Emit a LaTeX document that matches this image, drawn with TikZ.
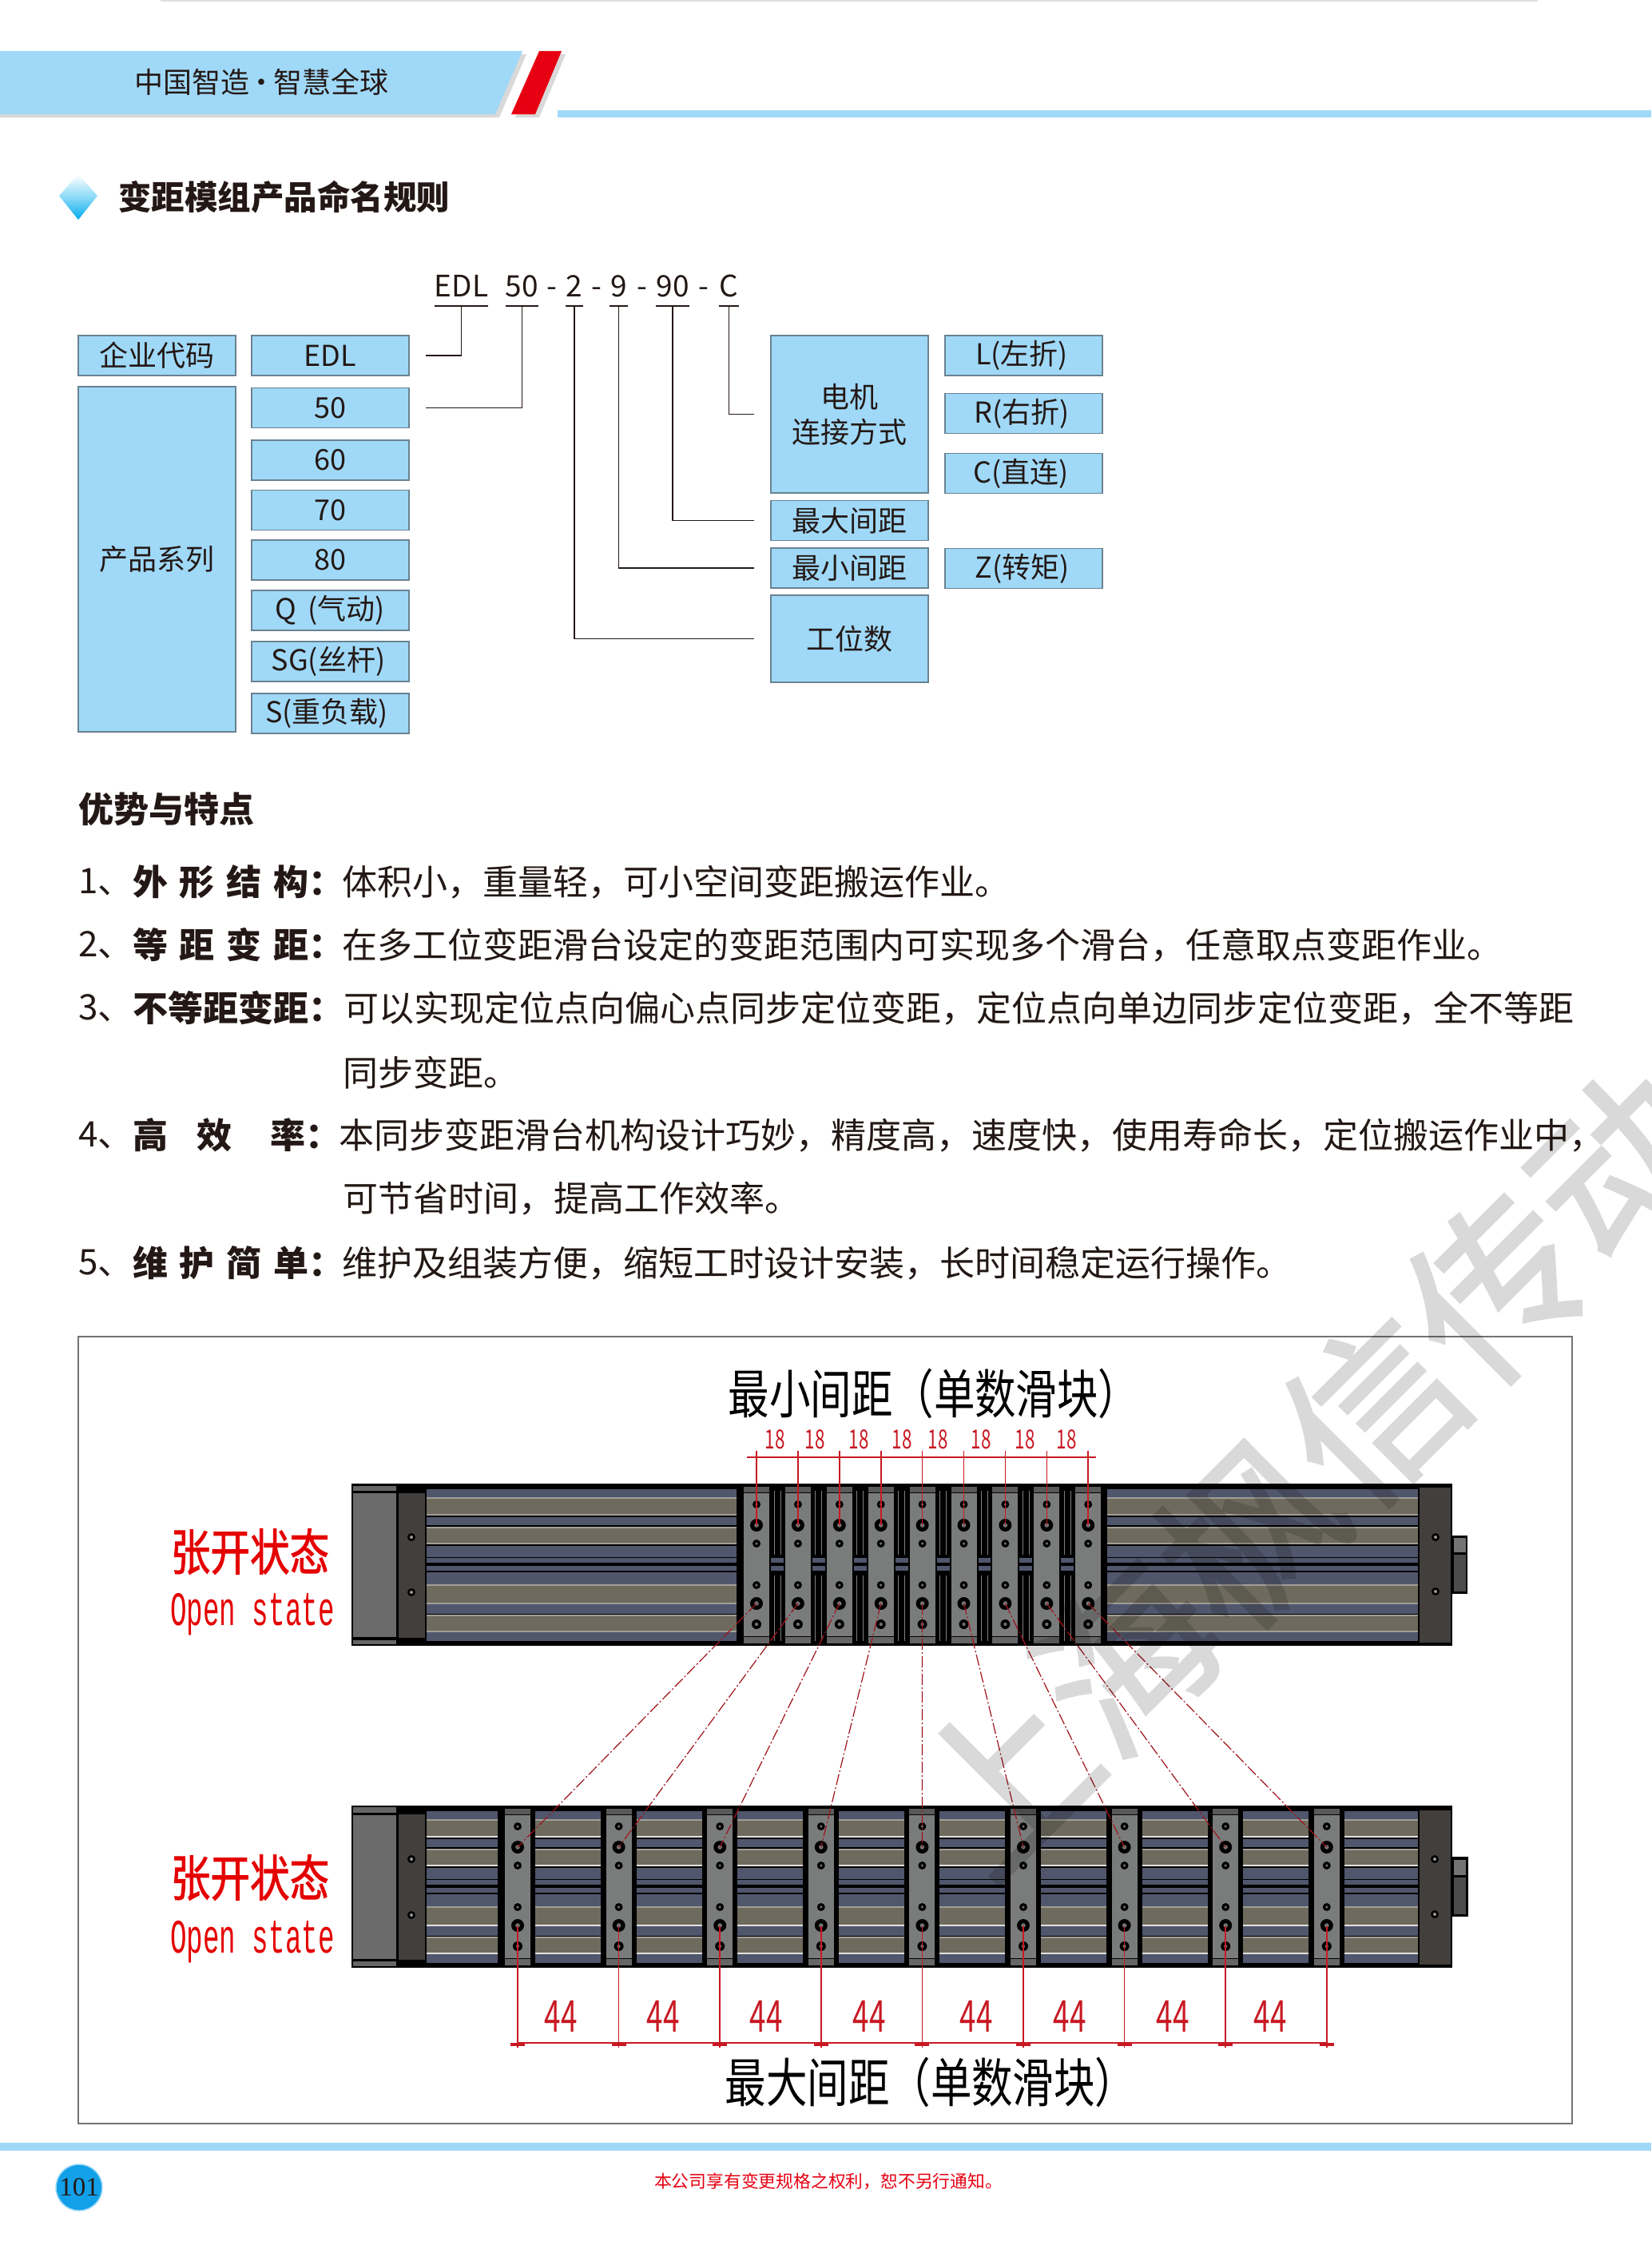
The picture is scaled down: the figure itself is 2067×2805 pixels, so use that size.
\documentclass[tikz,border=0pt]{standalone}
\usepackage{fontspec}
\usepackage{xcolor}
\setmainfont{Noto Sans CJK SC}
\newfontfamily\monolatin{Liberation Mono}
\newfontfamily\seriflatin{Liberation Serif}
\newfontfamily\markfont[FakeBold=1.5]{Noto Sans CJK SC}
\usetikzlibrary{positioning,calc}
\definecolor{bandblue}{RGB}{160,217,248}
\definecolor{boxline}{RGB}{105,130,145}
\definecolor{inkblack}{RGB}{35,24,21}
\definecolor{flagred}{RGB}{230,0,18}
\definecolor{dimred}{RGB}{200,25,35}
\definecolor{railslate}{RGB}{80,86,108}
\definecolor{railsand}{RGB}{110,106,94}
\definecolor{sliderface}{RGB}{122,124,124}
\definecolor{blockface}{RGB}{66,63,60}
\definecolor{pageblue}{RGB}{18,160,232}
\definecolor{gemblue}{RGB}{0,172,238}
\newcommand{\fsz}[1]{\fontsize{#1}{#1}\selectfont}
\tikzset{
  box/.style     = {draw=boxline, line width=1.5pt, fill=bandblue, inner sep=0pt,
                    text=inkblack, align=center, font=\fontsize{36}{44}\selectfont,
                    minimum width=197pt},
  token/.style   = {inner sep=0pt, minimum height=50pt, text height=26pt, text depth=0pt,
                    text=inkblack, font=\fsz{37}},
  under/.style   = {line width=1.5pt, draw=inkblack},
  line/.style    = {anchor=west, inner sep=0pt, text=inkblack, font=\fsz{44}},
  wire/.style    = {line width=1.5pt, draw=inkblack},
  dimlabel/.style= {inner sep=0pt, text=dimred, xscale=.68, font=\fsz{33}},
  widelabel/.style={inner sep=0pt, text=dimred, xscale=.67, font=\fsz{55}},
  dimline/.style = {draw=dimred, line width=1.6pt},
  link/.style    = {draw=dimred!80!black, line width=1.2pt, dash pattern=on 14pt off 3pt on 2pt off 3pt},
  caption/.style = {inner sep=0pt, text=black, xscale=.78, font=\fsz{66}},
  openstate/.style={inner sep=0pt, text=red!90!black, xscale=.57, font=\monolatin\fsz{60}},
  openzh/.style  = {inner sep=0pt, text=red!90!black, xscale=.8, font=\markfont\fsz{62}}
}
% one row of rails between two x values, #3 is the top of the module, #4 the white in the lower edge
\newcommand{\railrow}[4]{%
  \foreach \a/\b in {7/17,42/52,78/92,111/126,151/163,186/197}
    \fill[railslate] (#1,#3+\a) rectangle (#2,#3+\b);
  \foreach \a/\b in {18/38,55/74,127/149,165/184}{
    \fill[railsand] (#1,#3+\a) rectangle (#2,#3+\b);
    \draw[white!35!railsand, line width=1.5pt] (#1,#3+\a) -- (#2,#3+\a);
    \draw[white!#4!railsand, line width=1.5pt] (#1,#3+\b+1) -- (#2,#3+\b+1);
  }
  \foreach \a/\b in {93/99,103/109}
    \fill[railslate] (#1,#3+\a) rectangle (#2,#3+\b);
}
% slider plate with its six holes, #1 x, #2 module top
\newcommand{\sliderplate}[2]{%
  \fill[black] (#1-18,#2+1) rectangle (#1+18,#2+203);
  \fill[black!65] (#1-16,#2+4) rectangle (#1+16,#2+11);
  \fill[black!60] (#1-16,#2+192) rectangle (#1+16,#2+200);
  \fill[sliderface] (#1-16,#2+12) rectangle (#1+16,#2+191);
  \foreach \h/\r in {26/5,52/8,75/5,127/5,150/8,176/6}{
    \fill[black] (#1,#2+\h) circle (\r);
    \fill[black!55] (#1,#2+\h) circle (\r*.35);
  }
}
\begin{document}
\begin{tikzpicture}[x=1pt,y=-1pt]
  \path[use as bounding box,clip] (0,0) rectangle (2067,2805);
  \fill[white] (0,0) rectangle (2067,2805);
  % header
  \draw[black!12, line width=1.5pt] (201,1) -- (1925,1);
  \fill[black!15] (0,68) -- (659,68) -- (625,147) -- (0,147) -- cycle;
  \fill[bandblue] (0,64) -- (654,64) -- (620,143) -- (0,143) -- cycle;
  \fill[black!15] (680,68) -- (708,68) -- (675,147) -- (645,147) -- cycle;
  \fill[flagred] (675,64) -- (703,64) -- (670,143) -- (640,143) -- cycle;
  \fill[bandblue] (698,138) rectangle (2067,147);
  \node[inner sep=0pt, text=inkblack, font=\fsz{36}] (slogan) at (327,103) {中国智造\hspace{-3pt}·\hspace{-3pt}智慧全球};
  \shade[top color=white, bottom color=gemblue, middle color=gemblue!45]
    (98,218) -- (122,245) -- (98,275) -- (74,245) -- cycle;
  \node[anchor=west, inner sep=0pt, text=inkblack, font=\bfseries\fsz{41.5}] (headrule) at (148,247) {变距模组产品命名规则};

  % code string
  \node[token, minimum width=65pt] (tedl) at (577.5,358) {EDL};
  \node[token, minimum width=41pt] (tfifty) at (653.5,358) {50};
  \node[token] (dasha) at (691,358) {-};
  \node[token, minimum width=22pt] (ttwo) at (719,358) {2};
  \node[token] (dashb) at (747,358) {-};
  \node[token, minimum width=23pt] (tnine) at (774.5,358) {9};
  \node[token] (dashc) at (804,358) {-};
  \node[token, minimum width=42pt] (tninety) at (842,358) {90};
  \node[token] (dashd) at (881,358) {-};
  \node[token, minimum width=25pt] (tc) at (912.5,358) {C};
  \foreach \t in {tedl,tfifty,ttwo,tnine,tninety,tc}
    \draw[under] (\t.south west) -- (\t.south east);

  % boxes
  \node[box, minimum height=50pt] (corp) at (196.5,445) {企业代码};
  \node[box, minimum height=432pt] (series) at (196.5,700) {产品系列};
  \node[box, minimum height=50pt] (bedl) at (413.5,445) {EDL};
  \node[box, minimum height=50pt] (bfifty) at (413.5,510.5) {50};
  \node[box, minimum height=50pt] (bsixty) at (413.5,576) {60};
  \node[box, minimum height=50pt] (bseventy) at (413.5,638.5) {70};
  \node[box, minimum height=50pt] (beighty) at (413.5,701) {80};
  \node[box, minimum height=50pt] (bq) at (413.5,764) {Q\hspace{14pt}(气动)};
  \node[box, minimum height=50pt] (bsg) at (413.5,828) {SG(丝杆)\hspace{5pt}};
  \node[box, minimum height=50pt] (bs) at (413.5,893) {S(重负载)\hspace{9pt}};
  \node[box, minimum height=197pt] (bmotor) at (1063.5,518.5) {电机\\连接方式};
  \node[box, minimum height=50pt] (bmax) at (1063.5,651.5) {最大间距};
  \node[box, minimum height=50pt] (bmin) at (1063.5,711) {最小间距};
  \node[box, minimum height=109pt] (bpos) at (1063.5,799.5) {工位数};
  \node[box, minimum height=50pt] (bl) at (1281.5,445) {L(左折)\hspace{5pt}};
  \node[box, minimum height=50pt] (br) at (1281.5,517.5) {R(右折)\hspace{4pt}};
  \node[box, minimum height=50pt] (bcc) at (1281.5,592.5) {C(直连)\hspace{6pt}};
  \node[box, minimum height=50pt] (bz) at (1281.5,711.5) {Z(转矩)\hspace{4pt}};

  % connectors
  \draw[wire] (tedl.south) |- ([xshift=20pt]bedl.east);
  \draw[wire] (tfifty.south) |- ([xshift=20pt]bfifty.east);
  \draw[wire] (ttwo.south) |- ([xshift=-20pt]bpos.west);
  \draw[wire] (tnine.south) |- ([xshift=-20pt]bmin.west);
  \draw[wire] (tninety.south) |- ([xshift=-20pt]bmax.west);
  \draw[wire] (tc.south) |- ([xshift=-20pt]bmotor.west);

  % features
  \node[line, font=\bfseries\fsz{44}] (feat) at (98,1013) {优势与特点};
  \node[line] (numa) at (98,1104) {1、};
  \node[line, font=\bfseries\fsz{44}] (laba) at (166,1104) {\makebox[264pt][s]{外\hfill 形\hfill 结\hfill 构：}};
  \node[line] (texta) at (428,1104) {体积小，重量轻，可小空间变距搬运作业。};
  \node[line] (numb) at (98,1183) {2、};
  \node[line, font=\bfseries\fsz{44}] (labb) at (166,1183) {\makebox[264pt][s]{等\hfill 距\hfill 变\hfill 距：}};
  \node[line] (textb) at (428,1183) {在多工位变距滑台设定的变距范围内可实现多个滑台，任意取点变距作业。};
  \node[line] (numc) at (98,1262) {3、};
  \node[line, font=\bfseries\fsz{44}] (labc) at (166,1262) {不等距变距：};
  \node[line] (textc) at (430,1262) {可以实现定位点向偏心点同步定位变距，定位点向单边同步定位变距，全不等距};
  \node[line] (textcc) at (429,1343) {同步变距。};
  \node[line] (numd) at (98,1421) {4、};
  \node[line, font=\bfseries\fsz{44}] (labd) at (166,1421) {高\hspace{36pt}效\hspace{48pt}率：};
  \node[line] (textd) at (424,1421) {本同步变距滑台机构设计巧妙，精度高，速度快，使用寿命长，定位搬运作业中，};
  \node[line] (textdd) at (429,1500) {可节省时间，提高工作效率。};
  \node[line] (nume) at (98,1581) {5、};
  \node[line, font=\bfseries\fsz{44}] (labe) at (166,1581) {\makebox[264pt][s]{维\hfill 护\hfill 简\hfill 单：}};
  \node[line] (texte) at (428,1581) {维护及组装方便，缩短工时设计安装，长时间稳定运行操作。};

  % drawing panel
  \draw[black!55, line width=1.5pt] (98,1673) rectangle (1968,2658);
  \node[caption] (captop) at (1169,1744) {最小间距（单数滑块）};
  \node[caption] (capbot) at (1165,2606) {最大间距（单数滑块）};
  \node[openzh] (zhtop) at (313,1942) {张开状态};
  \node[openstate] (entop) at (316,2021) {Open state};
  \node[openzh] (zhbot) at (313,2350) {张开状态};
  \node[openstate] (enbot) at (316,2431) {Open state};

  % upper module
  \fill[black] (1818,1922) rectangle (1837,1995);
  \fill[black!55] (1820,1925) rectangle (1835,1943);
  \fill[black!70] (1820,1946) rectangle (1835,1992);
  \fill[black] (440,1857) rectangle (1818,2060);
  \fill[black!60] (442,1860) rectangle (496,1866);
  \fill[black!58] (442,1869) rectangle (496,2049);
  \fill[black!60] (442,2053) rectangle (496,2058);
  \fill[blockface] (499,1869) rectangle (532,2050);
  \fill[blockface] (1777,1862) rectangle (1816,2056);
  \foreach \sx/\sy in {515/1924,515/1993,1797/1924,1797/1992}{
    \fill[black] (\sx,\sy) circle (5);
    \fill[black!40] (\sx,\sy) circle (2);
  }
  \railrow{534}{922}{1857}{35}
  \railrow{1386}{1775}{1857}{35}
  \foreach \i [evaluate=\i as \gx using 947+51.9*\i] in {0,...,7}{
    \fill[railslate] (\gx+16,1950) rectangle (\gx+36,1956);
    \fill[railslate] (\gx+16,1960) rectangle (\gx+36,1966);
    \draw[black!50, line width=1pt] (\gx+22,1866) -- (\gx+22,1946);
    \draw[black!50, line width=1pt] (\gx+30,1866) -- (\gx+30,1946);
    \draw[black!50, line width=1pt] (\gx+22,1972) -- (\gx+22,2054);
    \draw[black!50, line width=1pt] (\gx+30,1972) -- (\gx+30,2054);
  }
  \foreach \i [evaluate=\i as \gx using 947+51.9*\i] in {0,...,8}{
    \sliderplate{\gx}{1857}
  }

  % lower module
  \fill[black] (1816,2324) rectangle (1838,2399);
  \fill[black!55] (1820,2328) rectangle (1835,2347);
  \fill[black!70] (1820,2350) rectangle (1835,2396);
  \fill[black] (440,2260) rectangle (1818,2463);
  \fill[black!60] (442,2262) rectangle (496,2269);
  \fill[black!58] (442,2272) rectangle (496,2452);
  \fill[black!60] (442,2455) rectangle (496,2461);
  \fill[blockface] (499,2271) rectangle (532,2453);
  \fill[blockface] (1777,2266) rectangle (1816,2459);
  \foreach \sx/\sy in {515/2327,515/2397,1796/2327,1796/2396}{
    \fill[black] (\sx,\sy) circle (5);
    \fill[black!40] (\sx,\sy) circle (2);
  }
  \railrow{534}{623}{2260}{80}
  \foreach \i [evaluate=\i as \gx using 648+126.6*\i, evaluate=\i as \hx using 648+126.6*\i+104] in {0,...,7}{
    \railrow{\gx+22}{\hx}{2260}{80}
  }
  \railrow{1683}{1775}{2260}{80}
  \foreach \i [evaluate=\i as \gx using 648+126.6*\i] in {0,...,8}{
    \sliderplate{\gx}{2260}
  }

  % hole centres for the links and dimensions
  \foreach \i in {1,...,9}{
    \coordinate (up\i) at ({947+51.9*(\i-1)},1909);
    \coordinate (ua\i) at ({947+51.9*(\i-1)},2007);
    \coordinate (ut\i) at ({947+51.9*(\i-1)},1816);
    \coordinate (da\i) at ({648+126.6*(\i-1)},2312);
    \coordinate (db\i) at ({648+126.6*(\i-1)},2411);
    \coordinate (dt\i) at ({648+126.6*(\i-1)},2563);
    \draw[link] (ua\i) -- (da\i);
    \draw[dimline] (ut\i) -- (up\i);
    \draw[dimline] (db\i) -- (dt\i);
    \draw[dimred, line width=3.5pt] ($(dt\i)+(-9,-4)$) -- ($(dt\i)+(9,-4)$);
  }
  \coordinate (dimlefttop) at (935,1824);
  \coordinate (dimrighttop) at (1372,1824);
  \draw[dimline] (dimlefttop) -- (dimrighttop);
  \draw[dimline] ($(dt1)+(0,-6)$) -- ($(dt9)+(0,-6)$);

  \node[dimlabel] (tiea) at (970,1802) {18};
  \node[dimlabel] (tieb) at (1020,1802) {18};
  \node[dimlabel] (tiec) at (1075,1802) {18};
  \node[dimlabel] (tied) at (1129,1802) {18};
  \node[dimlabel] (tiee) at (1174,1802) {18};
  \node[dimlabel] (tief) at (1228,1802) {18};
  \node[dimlabel] (tieg) at (1283,1802) {18};
  \node[dimlabel] (tieh) at (1335,1802) {18};
  \node[widelabel] (wida) at (702,2524) {44};
  \node[widelabel] (widb) at (830,2524) {44};
  \node[widelabel] (widc) at (959,2524) {44};
  \node[widelabel] (widd) at (1088,2524) {44};
  \node[widelabel] (wide) at (1222,2524) {44};
  \node[widelabel] (widf) at (1339,2524) {44};
  \node[widelabel] (widg) at (1468,2524) {44};
  \node[widelabel] (widh) at (1590,2524) {44};

  % footer
  \fill[bandblue] (0,2682) rectangle (2067,2692);
  \node[circle, fill=pageblue, draw=bandblue, line width=1.5pt, minimum size=58pt,
        inner sep=0pt, text=inkblack, font=\seriflatin\fsz{33}] (pageno) at (99,2738) {101};
  \node[inner sep=0pt, text=flagred, font=\fsz{21.8}] (notice) at (1037,2730) {本公司享有变更规格之权利，恕不另行通知。};

  % watermark
  \begin{scope}[transparency group, opacity=.15]
    \node[rotate=45, inner sep=0pt, text=black, font=\markfont\fsz{218}] (mark) at (1642,1842) {上海枫信传动};
  \end{scope}
\end{tikzpicture}
\end{document}
